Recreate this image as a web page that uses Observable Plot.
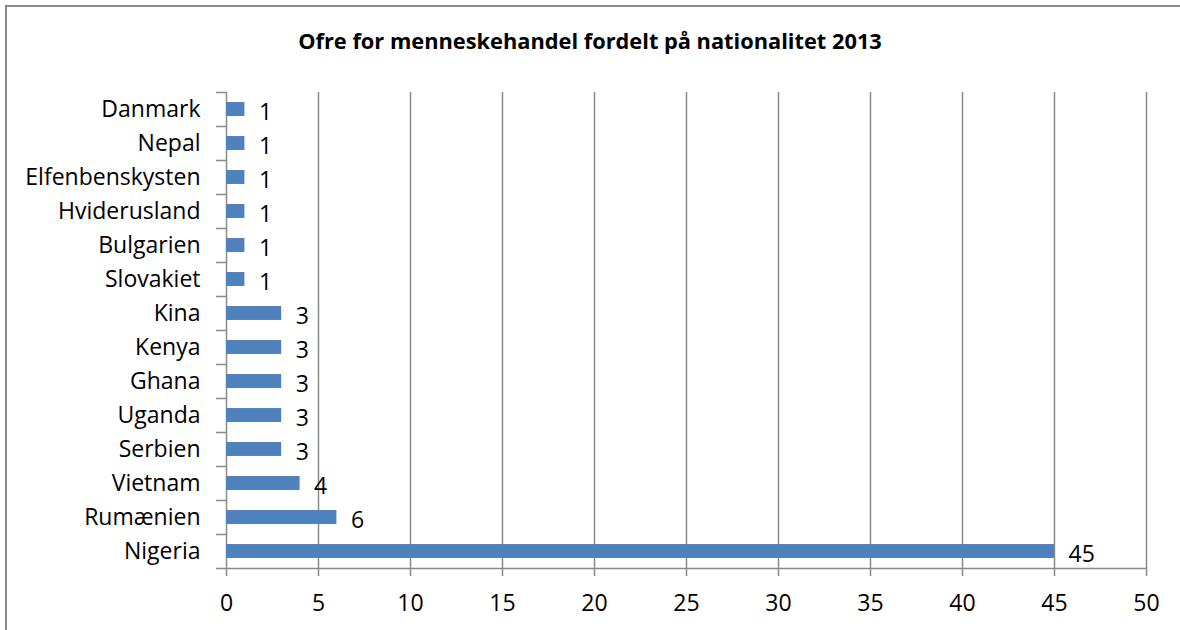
<!DOCTYPE html>
<html>
<head>
<meta charset="utf-8">
<script src="https://cdn.jsdelivr.net/npm/d3@7"></script>
<script src="https://cdn.jsdelivr.net/npm/@observablehq/plot@0.6"></script>
<style>
  html, body { margin: 0; padding: 0; background: #fff; }
  #wrap { position: relative; width: 1180px; height: 630px; overflow: hidden; background: #fff; font-family: "Open Sans", sans-serif; }
  #border { position: absolute; left: 5px; top: 5px; width: 1300px; height: 800px; border-left: 2px solid #8a8a8a; border-top: 2px solid #8a8a8a; }
  #title { position: absolute; left: 0; top: 30px; width: 1180px; text-align: center; font-weight: bold; font-size: 21.8px; line-height: 22px; color: #000; }
  #chart { position: absolute; left: 0; top: 70px; }
</style>
</head>
<body>
<div id="wrap">
  <div id="border"></div>
  <div id="title">Ofre for menneskehandel fordelt på nationalitet 2013</div>
  <div id="chart"></div>
</div>
<script>
const countries = ["Danmark", "Nepal", "Elfenbenskysten", "Hviderusland", "Bulgarien", "Slovakiet", "Kina", "Kenya", "Ghana", "Uganda", "Serbien", "Vietnam", "Rumænien", "Nigeria"];
const victims = [1, 1, 1, 1, 1, 1, 3, 3, 3, 3, 3, 4, 6, 45];
const xTicks = [0, 5, 10, 15, 20, 25, 30, 35, 40, 45, 50];

const data = countries.map((name, i) => ({name, value: victims[i]}));
const grey = "#8a8a8a";
const fs = 23;

const chart = Plot.plot({
  width: 1180,
  height: 560,
  marginLeft: 226,
  marginRight: 34,
  marginTop: 22,
  marginBottom: 62,
  style: {fontFamily: "'Open Sans', sans-serif", fontSize: fs + "px", color: "#000", background: "transparent"},
  x: {domain: [0, 50], axis: null, label: null},
  y: {type: "band", domain: countries, paddingInner: 0.59, paddingOuter: 0.295, round: false, axis: null, label: null},
  marks: [
    Plot.ruleX(xTicks, {stroke: grey, strokeWidth: 1.5}),
    Plot.ruleY([countries[countries.length - 1]], {stroke: grey, strokeWidth: 1.5, dy: 17}),
    Plot.axisY({tickSize: 10, dy: -17, stroke: grey, strokeWidth: 1.5, tickFormat: () => "", label: null}),
    Plot.axisY([countries[countries.length - 1]], {tickSize: 10, dy: 17, stroke: grey, strokeWidth: 1.5, tickFormat: () => "", label: null}),
    Plot.axisY({tickSize: 0, tickPadding: 26, fontSize: fs, fill: "#000", label: null}),
    Plot.axisX(xTicks, {tickSize: 8, tickPadding: 18, stroke: grey, strokeWidth: 1.5, fontSize: fs, fill: "#000", label: null}),
    Plot.barX(data, {x: "value", y: "name", fill: "#4f81bd"}),
    Plot.text(data, {x: "value", y: "name", text: d => String(d.value), textAnchor: "start", dx: 14, dy: 3, fontSize: fs, fill: "#000"})
  ]
});
document.getElementById("chart").appendChild(chart);
</script>
</body>
</html>
